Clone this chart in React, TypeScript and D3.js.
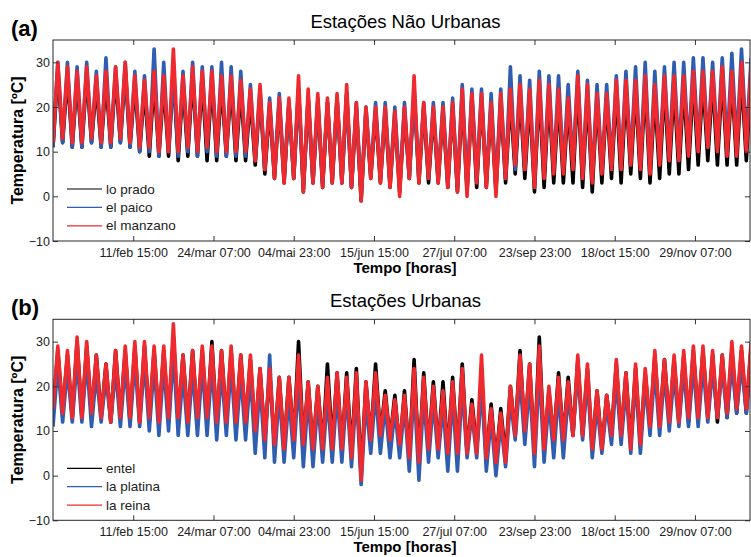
import * as d3 from 'd3';
import React, { useEffect, useRef } from 'react';

// x axis is hours since 1 Jan; ticks every 1000 h with the labels printed on the figure
const tickHours = [1000, 2000, 3000, 4000, 5000, 6000, 7000, 8000];
const tickLabels = ['11/feb 15:00', '24/mar 07:00', '04/mai 23:00', '15/jun 15:00', '27/jul 07:00', '23/sep 23:00', '18/oct 15:00', '29/nov 07:00'];
const yTicks = [-10, 0, 10, 20, 30];

// each value is the min / max temperature for a 5-day block (120 h)
const blockHours = 120;

// (a) estações não urbanas
const loPradoMin = [11, 12, 11, 11, 12, 11, 11, 12, 11, 10, 9, 9, 9, 8, 9, 9, 8, 8, 9, 8, 8, 7, 5, 4, 3, 4, 1, 3, 2, 3, 3, 2, -1, 4, 3, 2, 1, 4, 3, 3, 3, 2, 1, 1, 2, 2, 1, 3, 5, 4, 1, 2, 3, 3, 3, 2, 1, 3, 4, 3, 5, 4, 3, 4, 5, 5, 6, 7, 8, 7, 7, 7, 8];
const loPradoMax = [28, 27, 26, 27, 25, 26, 27, 28, 25, 24, 26, 25, 28, 25, 27, 26, 26, 25, 25, 24, 22, 23, 20, 21, 21, 24, 22, 21, 21, 22, 23, 20, 19, 19, 19, 18, 19, 24, 20, 19, 19, 20, 22, 22, 22, 20, 21, 22, 23, 22, 24, 23, 22, 21, 25, 23, 22, 22, 24, 24, 24, 25, 23, 25, 25, 25, 26, 26, 26, 27, 26, 27, 27];
const elPaicoMin = [11, 12, 11, 11, 12, 11, 11, 12, 11, 10, 10, 9, 10, 9, 10, 9, 10, 9, 9, 9, 9, 8, 6, 5, 4, 4, 2, 3, 3, 4, 3, 2, 0, 5, 4, 3, 2, 4, 4, 4, 4, 3, 2, 2, 4, 3, 2, 4, 6, 6, 3, 5, 6, 6, 7, 5, 4, 6, 7, 7, 8, 7, 6, 8, 9, 9, 10, 11, 11, 11, 11, 11, 12];
const elPaicoMax = [30, 30, 29, 30, 28, 31, 29, 30, 28, 27, 33, 30, 28, 28, 30, 29, 29, 30, 29, 28, 25, 24, 22, 23, 21, 24, 22, 22, 21, 22, 23, 21, 20, 21, 21, 20, 21, 23, 21, 21, 21, 22, 25, 24, 24, 23, 24, 29, 27, 26, 28, 27, 27, 25, 28, 26, 25, 25, 27, 28, 29, 30, 28, 29, 30, 30, 31, 31, 30, 31, 32, 33, 31];
const elManzanoMin = [12, 13, 12, 12, 13, 12, 12, 13, 12, 11, 11, 10, 10, 10, 11, 10, 11, 10, 10, 10, 10, 8, 6, 4, 3, 4, 1, 3, 2, 3, 3, 2, -1, 4, 3, 2, 0, 4, 3, 4, 3, 2, 1, 0, 3, 2, 0, 4, 7, 6, 2, 4, 5, 5, 6, 4, 3, 5, 6, 6, 7, 6, 5, 7, 8, 8, 9, 10, 11, 10, 9, 9, 10];
const elManzanoMax = [30, 29, 28, 29, 27, 28, 29, 30, 27, 26, 28, 27, 33, 27, 29, 28, 28, 27, 27, 26, 24, 25, 21, 22, 22, 27, 24, 23, 22, 23, 25, 21, 20, 20, 20, 19, 20, 27, 21, 20, 20, 21, 24, 23, 23, 21, 23, 24, 25, 24, 26, 25, 24, 22, 27, 25, 23, 23, 26, 26, 26, 27, 25, 27, 27, 27, 28, 28, 28, 29, 28, 30, 29];

// (b) estações urbanas
const entelMin = [14, 14, 13, 13, 13, 13, 12, 13, 12, 12, 12, 12, 12, 12, 12, 12, 12, 11, 12, 11, 11, 9, 8, 7, 6, 8, 7, 6, 6, 7, 6, 5, 0, 8, 9, 8, 6, 4, 3, 6, 6, 5, 5, 5, 6, 4, 3, 4, 9, 9, 5, 6, 8, 8, 9, 9, 6, 6, 9, 9, 7, 7, 11, 11, 12, 12, 12, 13, 13, 12, 13, 14, 14];
const entelMax = [28, 27, 30, 29, 27, 25, 28, 28, 29, 29, 28, 28, 31, 27, 28, 28, 30, 28, 28, 27, 26, 24, 23, 22, 22, 30, 21, 20, 25, 23, 23, 24, 21, 25, 19, 18, 19, 26, 23, 21, 21, 22, 25, 17, 20, 16, 15, 20, 28, 25, 31, 19, 23, 22, 26, 24, 19, 18, 25, 23, 24, 23, 27, 26, 26, 27, 28, 28, 27, 27, 28, 28, 29];
const laPlatinaMin = [11, 12, 12, 12, 11, 12, 12, 11, 11, 11, 10, 9, 10, 9, 9, 9, 9, 8, 9, 8, 8, 5, 4, 3, 3, 4, 2, 2, 3, 3, 3, 2, -2, 5, 5, 4, 4, 1, -1, 3, 4, 1, 1, 4, 4, 1, 0, 2, 8, 7, 2, 3, 4, 4, 9, 8, 4, 5, 7, 7, 5, 5, 9, 9, 10, 11, 11, 11, 12, 13, 13, 14, 14];
const laPlatinaMax = [25, 24, 26, 26, 23, 22, 24, 25, 26, 26, 25, 25, 28, 23, 24, 25, 25, 24, 25, 23, 23, 21, 27, 19, 18, 22, 18, 17, 18, 19, 19, 19, 17, 19, 16, 15, 16, 20, 18, 17, 16, 18, 20, 14, 21, 13, 12, 17, 22, 21, 24, 17, 19, 18, 24, 22, 16, 16, 22, 20, 22, 21, 24, 23, 23, 24, 25, 25, 24, 24, 25, 25, 26];
const laReinaMin = [15, 14, 13, 13, 14, 13, 12, 13, 13, 12, 13, 12, 13, 13, 12, 13, 13, 12, 12, 12, 12, 10, 8, 7, 6, 8, 7, 6, 6, 6, 6, 4, -1, 8, 9, 8, 7, 4, 3, 6, 6, 5, 5, 5, 5, 4, 3, 3, 9, 10, 5, 6, 8, 8, 9, 9, 6, 6, 9, 9, 6, 7, 11, 11, 12, 12, 13, 13, 13, 13, 14, 15, 15];
const laReinaMax = [29, 28, 31, 30, 27, 25, 28, 29, 30, 30, 29, 29, 34, 27, 28, 29, 29, 28, 29, 27, 27, 24, 24, 22, 22, 27, 21, 20, 22, 23, 22, 23, 21, 23, 18, 17, 18, 24, 22, 20, 19, 21, 24, 16, 27, 15, 14, 20, 27, 25, 29, 20, 22, 21, 27, 25, 19, 18, 26, 23, 25, 24, 28, 26, 27, 28, 29, 29, 28, 27, 30, 29, 30];

const panels = [
    {
        tag: '(a)',
        title: 'Estações Não Urbanas',
        series: [
            { name: 'lo prado', color: '#000000', min: loPradoMin, max: loPradoMax },
            { name: 'el paico', color: '#2f5db0', min: elPaicoMin, max: elPaicoMax },
            { name: 'el manzano', color: '#ee2a2e', min: elManzanoMin, max: elManzanoMax }
        ]
    },
    {
        tag: '(b)',
        title: 'Estações Urbanas',
        series: [
            { name: 'entel', color: '#000000', min: entelMin, max: entelMax },
            { name: 'la platina', color: '#2f5db0', min: laPlatinaMin, max: laPlatinaMax },
            { name: 'la reina', color: '#ee2a2e', min: laReinaMin, max: laReinaMax }
        ]
    }
];

const font = '"Liberation Sans", Arial, sans-serif';

type Pt = { h: number; t: number };

// min of each block at its start, max half a block later
function toPoints(mins: number[], maxs: number[]): Pt[] {
    const pts: Pt[] = [];
    mins.forEach((lo, i) => {
        pts.push({ h: i * blockHours, t: lo });
        pts.push({ h: i * blockHours + blockHours / 2, t: maxs[i] });
    });
    return pts;
}

export default function App() {
    const ref = useRef<SVGSVGElement>(null);

    useEffect(() => {
        const svg = d3.select(ref.current);
        svg.selectAll('*').remove();

        const left = 53;
        const right = 750;
        const height = 201;
        const tops = [40, 319.3];

        const x = d3.scaleLinear().domain([0, 8686]).range([left, right]);

        panels.forEach((panel, p) => {
            const top = tops[p];
            const y = d3.scaleLinear().domain([-10, 35]).range([top + height, top]);
            const g = svg.append('g');

            g.append('clipPath')
                .attr('id', `clip${p}`)
                .append('rect')
                .attr('x', left)
                .attr('y', top)
                .attr('width', right - left)
                .attr('height', height);

            const line = d3.line<Pt>()
                .x(d => x(d.h))
                .y(d => y(d.t));

            panel.series.forEach(s => {
                g.append('path')
                    .attr('d', line(toPoints(s.min, s.max)))
                    .attr('clip-path', `url(#clip${p})`)
                    .style('fill', 'none')
                    .style('stroke', s.color)
                    .style('stroke-width', 3.6)
                    .style('stroke-linejoin', 'round');
            });

            // axes with inward ticks, MATLAB style
            const bottom = g.append('g')
                .attr('transform', `translate(0, ${top + height})`)
                .call(
                    d3.axisBottom(x)
                        .tickValues(tickHours)
                        .tickFormat((d, i) => tickLabels[i])
                        .tickSizeInner(-5)
                        .tickSizeOuter(0)
                        .tickPadding(7)
                );
            g.append('g')
                .attr('transform', `translate(0, ${top})`)
                .call(d3.axisTop(x).tickValues(tickHours).tickFormat(() => '').tickSizeInner(-5).tickSizeOuter(0));
            const leftAxis = g.append('g')
                .attr('transform', `translate(${left}, 0)`)
                .call(d3.axisLeft(y).tickValues(yTicks).tickSizeInner(-5).tickSizeOuter(0).tickPadding(3));
            g.append('g')
                .attr('transform', `translate(${right}, 0)`)
                .call(d3.axisRight(y).tickValues(yTicks).tickFormat(() => '').tickSizeInner(-5).tickSizeOuter(0));

            g.selectAll('.domain').remove();
            g.selectAll('.tick line').style('stroke', '#333');
            [bottom, leftAxis].forEach(a => a.selectAll('text')
                .style('font-family', font)
                .style('font-size', '12.5px')
                .style('fill', '#222'));

            g.append('rect')
                .attr('x', left)
                .attr('y', top)
                .attr('width', right - left)
                .attr('height', height)
                .style('fill', 'none')
                .style('stroke', '#262626')
                .style('stroke-width', 1);

            // legend
            panel.series.forEach((s, i) => {
                const ly = top + 149 + i * 18.4;
                g.append('line')
                    .attr('x1', 67).attr('x2', 102)
                    .attr('y1', ly).attr('y2', ly)
                    .style('stroke', s.color)
                    .style('stroke-width', 1.2);
                g.append('text')
                    .attr('x', 106)
                    .attr('y', ly + 4.5)
                    .text(s.name)
                    .style('font-family', font)
                    .style('font-size', '13.5px')
                    .style('fill', '#222');
            });

            g.append('text')
                .attr('x', (left + right) / 2 + 4)
                .attr('y', top - 12)
                .attr('text-anchor', 'middle')
                .text(panel.title)
                .style('font-family', font)
                .style('font-size', '18.5px');

            g.append('text')
                .attr('x', 11)
                .attr('y', top - 4)
                .text(panel.tag)
                .style('font-family', font)
                .style('font-size', '22px')
                .style('font-weight', 'bold');

            g.append('text')
                .attr('x', 405)
                .attr('y', top + height + 32)
                .attr('text-anchor', 'middle')
                .text('Tempo [horas]')
                .style('font-family', font)
                .style('font-size', '15px')
                .style('font-weight', 'bold');

            g.append('text')
                .attr('transform', `translate(23, ${top + height / 2}) rotate(-90)`)
                .attr('text-anchor', 'middle')
                .text('Temperatura [ºC]')
                .style('font-family', font)
                .style('font-size', '16px')
                .style('font-weight', 'bold');
        });
    }, []);

    return (
        <svg
            ref={ref}
            width={751}
            height={557}
            style={{ position: 'absolute', left: 0, top: 0, background: '#fff' }}
        />
    );
}
